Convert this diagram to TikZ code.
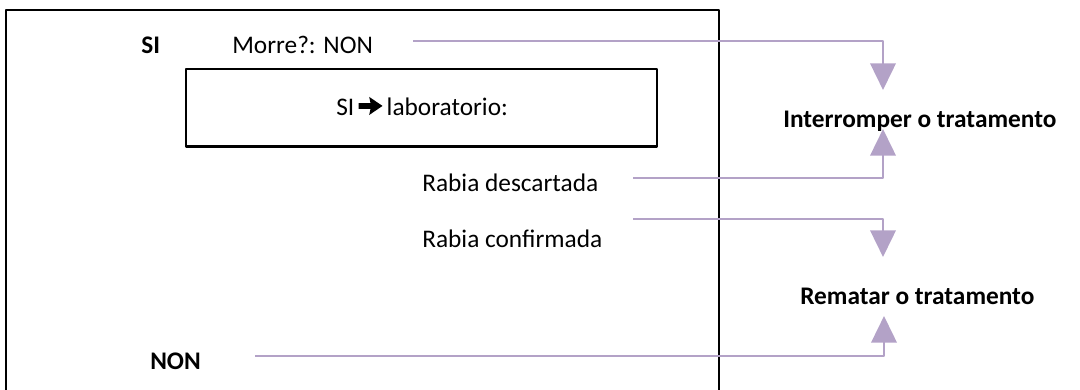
\documentclass[tikz,border=0pt]{standalone}
\usepackage{fontspec}
\setmainfont{Carlito}
\usetikzlibrary{arrows.meta,positioning}
\definecolor{lila}{HTML}{B3A2C7}
\newcommand{\frechaSI}{\,\tikz[baseline=0pt]\fill (0pt,4.6pt)--(9pt,4.6pt)--(8pt,0pt)--(18pt,6.8pt)--(8pt,13.6pt)--(9pt,9pt)--(0pt,9pt)--cycle;\,}
\tikzset{
  caixa/.style={draw, line width=2pt, inner sep=0pt},
  frecha/.style={lila, line width=2pt, ->},
  texto/.style={inner sep=0pt, anchor=base west},
  rotulo/.style={texto, font=\fontsize{19}{22}\selectfont\bfseries}
}
\begin{document}
\begin{tikzpicture}[x=0.75pt, y=-0.75pt, font=\fontsize{19}{22}\selectfont, line join=round, >={Triangle[width=19pt,length=20pt]}]
	\useasboundingbox (0,0) rectangle (1080,389);
	% caixa exterior (aberta por abaixo)
	\draw[line width=2pt] (6,392)--(6,10)--(719,10)--(719,392);
	\node[caixa, minimum width=353.25pt, minimum height=58pt] (lab) at (421.5,107.75) {};
	% textos
	\node[rotulo] (si) at (141,53) {SI};
	\node[texto] (morre) at (232,53) {Morre?: NON};
	\node[texto] (labtxt) at (336,115) {SI\frechaSI laboratorio:};
	\node[texto] (desc) at (422,191) {Rabia descartada};
	\node[texto] (conf) at (422,247) {Rabia confirmada};
	\node[rotulo] (non) at (150,369) {NON};
	\node[rotulo] (interr) at (783,127) {Interromper o tratamento};
	\node[rotulo] (remat) at (800,304) {Rematar o tratamento};
	% extremos das frechas
	\coordinate (m0) at (413,41);   \coordinate (i1) at (883,90);
	\coordinate (d0) at (633,178);  \coordinate (i2) at (883,129);
	\coordinate (c0) at (633,219);  \coordinate (r1) at (883,257);
	\coordinate (n0) at (255,356);  \coordinate (r2) at (884,316);
	\draw[frecha] (m0) -| (i1);
	\draw[frecha] (d0) -| (i2);
	\draw[frecha] (c0) -| (r1);
	\draw[frecha] (n0) -| (r2);
\end{tikzpicture}
\end{document}
